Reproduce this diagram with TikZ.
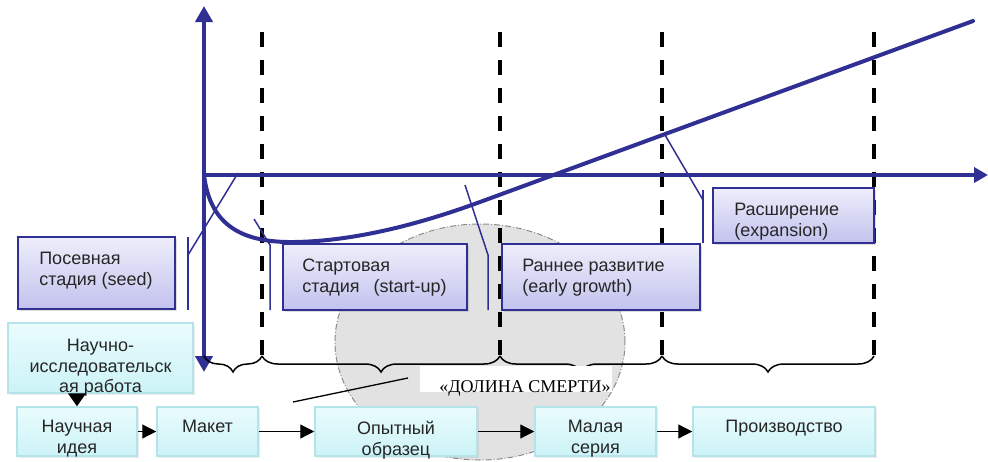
\documentclass[tikz,border=0pt]{standalone}
\usepackage{fontspec}
\setmainfont{Liberation Sans}
\newfontfamily\serifru{Liberation Serif}
\usetikzlibrary{arrows.meta,decorations.pathreplacing,calc,shadows}
\definecolor{axisblue}{RGB}{48,48,148}
\definecolor{ptop}{RGB}{238,238,251}
\definecolor{pbot}{RGB}{194,194,238}
\definecolor{ctop}{RGB}{234,252,253}
\definecolor{cbot}{RGB}{204,243,247}
\definecolor{cborder}{RGB}{180,228,234}
\definecolor{valleyfill}{RGB}{226,226,226}
\definecolor{valleyline}{RGB}{140,140,140}
\definecolor{txtgray}{RGB}{38,38,38}
\begin{document}
\begin{tikzpicture}[x=1pt,y=-1pt,
  pbox/.style={draw=axisblue, line width=1.8pt, top color=ptop, bottom color=pbot, inner sep=0pt,
    drop shadow={shadow xshift=2pt, shadow yshift=-2pt, opacity=0.25}},
  cbox/.style={draw=cborder, line width=1.5pt, top color=ctop, bottom color=cbot, inner sep=0pt,
    drop shadow={shadow xshift=1.5pt, shadow yshift=-1.5pt, opacity=0.15}},
  ltxt/.style={font=\fontsize{18}{20.5}\selectfont, text=txtgray, inner sep=0pt, align=left},
  ctxt/.style={font=\fontsize{18}{20.5}\selectfont, text=txtgray, inner sep=0pt, align=center},
  axisline/.style={draw=axisblue, line width=4pt},
  phase/.style={draw=black, line width=4pt, dash pattern=on 15pt off 13pt},
  callout/.style={draw=axisblue, line width=1.5pt},
  brc/.style={draw=black, line width=1.5pt, decorate, decoration={brace, mirror, amplitude=16pt}},
  arr/.style={draw=black, line width=1.2pt, -{Triangle[length=14pt,width=14pt]}},
  valley/.style={draw=valleyline, line width=1pt, fill=valleyfill, dash pattern=on 6pt off 2pt on 1pt off 2pt}
]
\useasboundingbox (0,0) rectangle (988,461);

% valley of death
\draw[valley] (480,342) ellipse [x radius=145pt, y radius=118pt];

% phase boundaries
\foreach \n/\x in {p1/262, p2/500, p3/662, p4/874}{
  \coordinate (\n top) at (\x,32);
  \coordinate (\n bot) at (\x,356);
  \draw[phase] (\n top) -- (\n bot);
}

% axes
\coordinate (O) at (204,175);
\coordinate (ytop) at (204,6);
\coordinate (ybot) at (204,372);
\coordinate (xend) at (988,175);
\draw[axisline, {Triangle[length=16pt,width=17pt]}-{Triangle[length=16pt,width=17pt]}] (ybot) -- (ytop);
\draw[axisline, -{Triangle[length=14pt,width=15pt]}] (O) -- (xend);

% cash-flow curve
\coordinate (cmin) at (295,242);
\coordinate (cjoin) at (480,202);
\coordinate (cend) at (973,21);
\draw[axisblue, line width=4pt, line cap=round]
  (O) .. controls (210,224) and (240,243) .. (cmin)
      .. controls (355,241) and (420,224) .. (cjoin) -- (cend);

% callout lines
\coordinate (c1a) at (238,173); \coordinate (c1b) at (188,255);
\coordinate (c1t) at (188,237); \coordinate (c1d) at (188,310);
\draw[callout] (c1a) -- (c1b);
\draw[callout] (c1t) -- (c1d);
\coordinate (c2a) at (254,219); \coordinate (c2b) at (270,245); \coordinate (c2d) at (270,310);
\draw[callout] (c2a) -- (c2b) -- (c2d);
\coordinate (c3a) at (465,185); \coordinate (c3b) at (488,255); \coordinate (c3d) at (488,310);
\draw[callout] (c3a) -- (c3b) -- (c3d);
\coordinate (c4a) at (665,135); \coordinate (c4b) at (703,200);
\coordinate (c4t) at (703,190); \coordinate (c4d) at (703,243);
\draw[callout] (c4a) -- (c4b);
\draw[callout] (c4t) -- (c4d);

% stage boxes
\node[pbox, minimum width=157pt, minimum height=72pt] (seed) at (96.5,273) {};
\node[pbox, minimum width=184pt, minimum height=66pt] (start) at (375,277) {};
\node[pbox, minimum width=198pt, minimum height=66pt] (early) at (601,277) {};
\node[pbox, minimum width=161pt, minimum height=55pt] (exp) at (793.5,215.5) {};
\node[ltxt, anchor=north west] (seedt) at ($(seed.north west)+(22,16)$) {Посевная\\стадия (seed)};
\node[ltxt, anchor=north west] (startt) at ($(start.north west)+(20,16)$) {Стартовая\\стадия\hspace{14pt}(start-up)};
\node[ltxt, anchor=north west] (earlyt) at ($(early.north west)+(21,16)$) {Раннее развитие\\(early growth)};
\node[ltxt, anchor=north west] (expt) at ($(exp.north west)+(22,16)$) {Расширение\\(expansion)};

% braces
\draw[brc] (204,356) -- (p1bot);
\draw[brc] (p1bot) -- (p2bot);
\draw[brc] (p2bot) -- (p3bot);
\draw[brc] (p3bot) -- (p4bot);

% valley label
\node[fill=white, inner sep=0pt, minimum width=192pt, minimum height=26pt] (valleybg) at (516,379) {};
\node[font=\serifru\fontsize{18}{20}\selectfont, text=black, inner sep=0pt, anchor=base] (valley) at (525,392) {«ДОЛИНА СМЕРТИ»};

% pointer line
\coordinate (pl1) at (293,402);
\coordinate (pl2) at (408,378);
\draw[black, line width=1.3pt] (pl1) -- (pl2);

% bottom process boxes
\node[cbox, minimum width=185pt, minimum height=70pt] (nir) at (100.5,358) {};
\node[cbox, minimum width=120pt, minimum height=49pt] (idea) at (77,431.5) {};
\node[cbox, minimum width=101pt, minimum height=49pt] (maket) at (207.5,431.5) {};
\node[cbox, minimum width=162pt, minimum height=49pt] (proto) at (396,431.5) {};
\node[cbox, minimum width=121pt, minimum height=49pt] (small) at (595.5,431.5) {};
\node[cbox, minimum width=182pt, minimum height=49pt] (prod) at (784,431.5) {};

\node[ctxt, anchor=north] (nirt) at ($(nir.north)+(0,17)$) {Научно-\\исследовательск\\ая работа};
\node[ctxt, anchor=north] (ideat) at ($(idea.north)+(0,14)$) {Научная\\идея};
\node[ctxt, anchor=north] (maket t) at ($(maket.north)+(0,14)$) {Макет};
\node[ctxt, anchor=north] (protot) at ($(proto.north)+(0,15)$) {Опытный\\образец};
\node[ctxt, anchor=north] (smallt) at ($(small.north)+(0,14)$) {Малая\\серия};
\node[ctxt, anchor=north] (prodt) at ($(prod.north)+(0,14)$) {Производство};

% arrows
\draw[arr, -{Triangle[length=13pt,width=18pt]}] (idea.north |- nir.south) -- (idea.north);
\draw[arr] (idea.east) -- (maket.west);
\draw[arr] (maket.east) -- (proto.west);
\draw[arr] (proto.east) -- (small.west);
\draw[arr] (small.east) -- (prod.west);
\end{tikzpicture}
\end{document}
